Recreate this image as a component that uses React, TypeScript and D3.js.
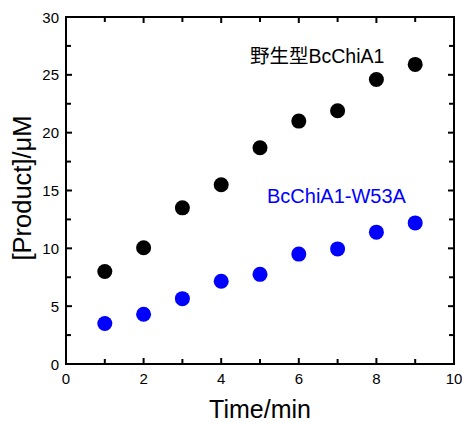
import React from 'react';
import * as d3 from 'd3';

const times = [1, 2, 3, 4, 5, 6, 7, 8, 9];
const wildType = [8.0, 10.05, 13.5, 15.5, 18.7, 21.0, 21.9, 24.6, 25.9];
const mutant = [3.5, 4.3, 5.65, 7.15, 7.75, 9.5, 9.95, 11.4, 12.2];
const xTicks = [0, 2, 4, 6, 8, 10];
const xMinor = [1, 3, 5, 7, 9];
const yTicks = [0, 5, 10, 15, 20, 25, 30];
const yMinor = [2.5, 7.5, 12.5, 17.5, 22.5, 27.5];

const font = '"Liberation Sans", Arial, sans-serif';

export default function App() {
  const width = 462;
  const height = 423;
  const margin = { top: 17, right: 8, bottom: 59, left: 66 };
  const x = d3.scaleLinear().domain([0, 10]).range([margin.left, width - margin.right]);
  const y = d3.scaleLinear().domain([0, 30]).range([height - margin.bottom, margin.top]);
  const [x0, x1] = x.range();
  const [y0, y1] = y.range();

  return (
    <svg width={width} height={height} style={{ position: 'absolute', left: 0, top: 0 }}>
      <rect width={width} height={height} fill="#fff" />
      {/* ticks, pointing inward on all four sides */}
      <g stroke="#000" strokeWidth={2}>
        {xTicks.map((t) => (
          <g key={'xt' + t}>
            <line x1={x(t)} x2={x(t)} y1={y0} y2={y0 - 6} />
            <line x1={x(t)} x2={x(t)} y1={y1} y2={y1 + 6} />
          </g>
        ))}
        {xMinor.map((t) => (
          <g key={'xm' + t}>
            <line x1={x(t)} x2={x(t)} y1={y0} y2={y0 - 5} />
            <line x1={x(t)} x2={x(t)} y1={y1} y2={y1 + 5} />
          </g>
        ))}
        {yTicks.map((t) => (
          <g key={'yt' + t}>
            <line x1={x0} x2={x0 + 6} y1={y(t)} y2={y(t)} />
            <line x1={x1} x2={x1 - 6} y1={y(t)} y2={y(t)} />
          </g>
        ))}
        {yMinor.map((t) => (
          <g key={'ym' + t}>
            <line x1={x0} x2={x0 + 5} y1={y(t)} y2={y(t)} />
            <line x1={x1} x2={x1 - 5} y1={y(t)} y2={y(t)} />
          </g>
        ))}
        <rect x={x0} y={y1} width={x1 - x0} height={y0 - y1} fill="none" />
      </g>
      <g fontFamily={font} fontSize={15} fill="#000">
        {xTicks.map((t) => (
          <text key={'xl' + t} x={x(t)} y={y0 + 20} textAnchor="middle">
            {t}
          </text>
        ))}
        {yTicks.map((t) => (
          <text key={'yl' + t} x={x0 - 7} y={y(t) + 5.5} textAnchor="end">
            {t}
          </text>
        ))}
      </g>
      <text x={(x0 + x1) / 2} y={418} textAnchor="middle" fontFamily={font} fontSize={25}>
        Time/min
      </text>
      <text
        transform={`translate(31, 188) rotate(-90)`}
        textAnchor="middle"
        fontFamily={font}
        fontSize={25.5}
      >
        [Product]/μM
      </text>
      {times.map((t, i) => (
        <circle key={'w' + t} cx={x(t)} cy={y(wildType[i])} r={7.5} fill="#000" />
      ))}
      {times.map((t, i) => (
        <circle key={'m' + t} cx={x(t)} cy={y(mutant[i])} r={7.5} fill="#0000ff" />
      ))}
      <text x={250} y={63} fontFamily={'"Liberation Sans", "Noto Sans CJK JP", sans-serif'} fontSize={19.5} fill="#000">
        野生型BcChiA1
      </text>
      <text x={267} y={203} fontFamily={font} fontSize={20} fill="#0000ff">
        BcChiA1-W53A
      </text>
    </svg>
  );
}
